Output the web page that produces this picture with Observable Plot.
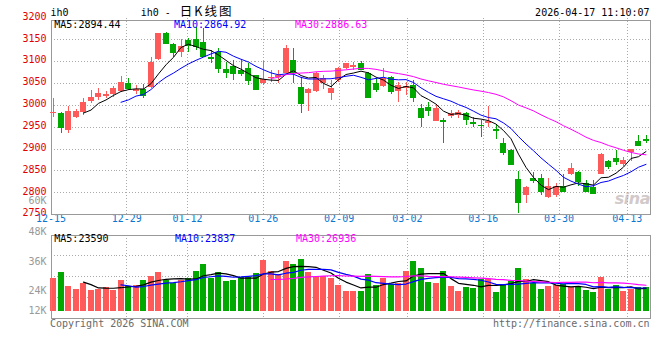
<!DOCTYPE html>
<html><head><meta charset="utf-8">
<script src="https://cdn.jsdelivr.net/npm/d3@7"></script>
<script src="https://cdn.jsdelivr.net/npm/@observablehq/plot@0.6"></script>
<style>
html,body{margin:0;padding:0;background:#fff;}
#wrap{position:relative;width:660px;height:360px;overflow:hidden;background:#fff;}
#wrap svg{position:absolute;left:0;top:0;}
</style></head><body><div id="wrap"></div>
<script>
// ---- data ----
const opens = [2981,2981,2943,2972,2984,3009,3018,3020,3024,3032,
3049,3032,3036,3040,3104,3165,3139,3122,3148,3150,
3144,3109,3122,3082,3090,3080,3085,3068,3049,3061,
3064,3074,3103,3042,3028,3032,3049,3028,3058,3084,
3087,3096,3074,3051,3043,3063,3032,3038,3045,2993,
2996,2964,2965,2975,2977,2981,2961,2955,2958,2945,
2912,2897,2830,2794,2832,2832,2790,2794,2814,2842,
2847,2821,2811,2842,2872,2878,2864,2893,2918,2922];
const closes = [2983,2950,2986,2986,3007,3017,3027,3025,3038,3052,
3038,3036,3023,3099,3164,3142,3122,3135,3137,3135,
3112,3108,3084,3076,3074,3072,3058,3036,3059,3064,
3068,3129,3076,3004,3036,3074,3061,3038,3085,3095,
3091,3082,3019,3036,3061,3032,3045,3043,3019,2972,
2988,2992,2963,2981,2983,2967,2959,2953,2964,2943,
2893,2865,2777,2813,2828,2804,2814,2814,2804,2855,
2826,2804,2799,2888,2861,2872,2874,2898,2908,2920];
const highs = [3016,2984,2997,2990,3016,3034,3038,3032,3043,3065,
3061,3045,3048,3109,3165,3167,3141,3150,3153,3179,
3176,3125,3129,3099,3103,3104,3095,3069,3100,3080,
3080,3137,3129,3064,3038,3076,3068,3057,3087,3096,
3099,3100,3076,3061,3084,3066,3053,3053,3057,3002,
3007,3002,2969,2988,2988,2984,2973,2965,2997,2956,
2924,2898,2849,2814,2847,2843,2832,2821,2842,2868,
2849,2828,2828,2891,2874,2897,2880,2898,2931,2931];
const lows = [2973,2936,2936,2969,2977,3004,3011,3015,3019,3030,
3034,3026,3015,3038,3103,3141,3110,3110,3122,3125,
3110,3096,3074,3061,3058,3066,3045,3034,3045,3053,
3049,3072,3049,2982,2987,3030,3036,3011,3053,3081,
3080,3080,3019,3030,3040,3026,3007,3023,3007,2949,
2975,2964,2912,2969,2969,2954,2950,2926,2950,2921,
2885,2864,2752,2775,2822,2794,2786,2790,2801,2840,
2814,2801,2798,2842,2853,2862,2861,2872,2907,2912];
const volumes = [33660,39780,25500,22130,28560,21110,22850,24170,21830,31310,
25190,26210,31310,35700,39780,31310,28560,32030,33660,40490,
47630,34070,39780,30290,31310,34680,34680,38760,51710,40490,
38150,50690,47630,52730,39780,34680,35390,33660,26210,20090,
20090,20090,37430,26210,33660,27230,28560,40490,50690,43860,
29580,28560,40490,25190,20090,24480,23460,32330,33050,19380,
27230,30290,43860,32330,28560,22130,25190,26210,27540,24480,
24480,21110,19380,34370,22130,26210,20090,22850,24480,24480];
const dateLabels = ["12-15","12-29","01-12","01-26","02-09","03-02","03-16","03-30","04-13"];
const dateIndex = [0,10,18,28,38,47,57,67,76];
const priceTicks = [3200,3150,3100,3050,3000,2950,2900,2850,2800,2750];
const volTickLabels = ["12K","24K","36K","48K","60K"];
const volTickValues = [700,21100,50700,81600,112900];
const maNames = ["MA5","MA10","MA30"];
const maPeriods = [5,10,30];
const priceMaLegend = ["2894.44","2864.92","2886.63"];
const volMaLegend = ["23590","23837","26936"];
const symbol = "ih0";
const titleText = "ih0 - ";
const titleCJK = "日K线图";
const stamp = "2026-04-17 11:10:07";
const copyright = "Copyright 2026 SINA.COM";
const url = "http://finance.sina.com.cn";

// ---- styling ----
const RED = "#ff5a5a", GREEN = "#00a800";
const maColors = ["#000000","#0000ff","#ff00ff"];
const GRID = "#aaaaaa", FRAME = "#999999";
const FONT = "DejaVu Sans Mono, Liberation Mono, monospace";
const W = 660, H = 360, n = opens.length;

const bars = opens.map((o,i)=>({i, open:o, close:closes[i], high:highs[i], low:lows[i], vol:volumes[i], color: closes[i] >= o ? RED : GREEN}));
const movAvg = (arr,k)=>arr.map((_,i)=> i < k-1 ? null : d3.mean(arr.slice(i-k+1,i+1)));
const priceMA = maPeriods.map((k,j)=> closes.map((_,i)=>({i, v: movAvg(closes,k)[i], s: j})));
const volMA = maPeriods.map((k,j)=> volumes.map((_,i)=>({i, v: movAvg(volumes,k)[i], s: j})));

const mL = 50.5, mR = 10.5;
const xDomain = [-1/3, n - 1 + 0.5333];
const gx = d3.scaleLinear([0, n-1], xDomain); // date grid spread across the frame
const half = 0.4;
const common = {width: W, height: H, marginLeft: mL, marginRight: mR,
  x: {type: "linear", domain: xDomain, axis: null},
  color: {type: "identity"},
  style: {background: "transparent", fontFamily: FONT, fontSize: "10px", overflow: "visible"}};

const price = Plot.plot({...common, marginTop: 19.5, marginBottom: H - 213.5,
  y: {domain: [2750, 3200], range: [214.16, 17.44], axis: null},
  marks: [
    Plot.ruleY(priceTicks.filter(t => t > 2750 && t < 3200), {stroke: GRID, strokeDasharray: "1,2", shapeRendering: "crispEdges"}),
    Plot.ruleX(dateIndex.slice(1), {x: d => gx(d), y1: 2750, y2: 3200, stroke: GRID, strokeDasharray: "1,2", shapeRendering: "crispEdges"}),
    Plot.axisY(priceTicks, {anchor: "left", tickSize: 0, tickPadding: 4.5, dy: -1.5, fill: "#e00000", label: null, fontSize: 10, tickFormat: d => String(d)}),
    Plot.text(dateLabels, {x: (d,i) => gx(dateIndex[i]), frameAnchor: "bottom", dy: 8.3, fill: "#0a78d2", fontSize: 10}),
    Plot.ruleX(bars, {x: "i", y1: "low", y2: "high", stroke: "color", shapeRendering: "crispEdges"}),
    Plot.rect(bars, {x1: d => d.i - half, x2: d => d.i + half, y1: "open", y2: "close", fill: "color", shapeRendering: "crispEdges"}),
    Plot.ruleY(bars, {y: "close", x1: d => d.i - half, x2: d => d.i + half, stroke: "color", shapeRendering: "crispEdges"}),
    ...priceMA.map((s,j) => Plot.line(s, {x: "i", y: "v", stroke: maColors[j], strokeWidth: 1})),
    Plot.frame({stroke: FRAME, shapeRendering: "crispEdges"})
  ]});

const vBase = 311, vTop = 234.5, vBot = 317.5, perPx = 1020;
const vDomain = [-(vBot - vBase) * perPx, (vBase - vTop) * perPx];
const vGrid = [1,2,3].map(k => vDomain[0] + k * (vDomain[1] - vDomain[0]) / 4);
const volume = Plot.plot({...common, marginTop: vTop, marginBottom: H - vBot,
  y: {domain: vDomain, axis: null},
  marks: [
    Plot.ruleY(vGrid, {stroke: GRID, strokeDasharray: "1,2", shapeRendering: "crispEdges"}),
    Plot.ruleX(dateIndex.slice(1), {x: d => gx(d), stroke: GRID, strokeDasharray: "1,2", shapeRendering: "crispEdges"}),
    Plot.text(volTickLabels, {y: (d,i) => volTickValues[i], frameAnchor: "left", textAnchor: "end", dx: -4.5, fill: "#999999", fontSize: 10}),
    Plot.rect(bars, {x1: d => d.i - half, x2: d => d.i + half, y1: 0, y2: "vol", fill: "color", shapeRendering: "crispEdges"}),
    ...volMA.map((s,j) => Plot.line(s, {x: "i", y: "v", stroke: maColors[j], strokeWidth: 1.2})),
    Plot.frame({stroke: FRAME, shapeRendering: "crispEdges"})
  ]});

const wrap = document.getElementById("wrap");
wrap.appendChild(price);
wrap.appendChild(volume);

// ---- header, legends and captions ----
const svg = d3.select(volume);
const addText = (x, y, s, fill, anchor="start", extra={}) => {
  const t = svg.append("text").attr("x", x).attr("y", y).attr("fill", fill)
    .attr("text-anchor", anchor).attr("font-family", FONT).attr("font-size", extra.size || 10).text(s);
  if (extra.style) t.attr("style", extra.style);
  return t;
};
// watermark
d3.select(price).insert("text", ":first-child").attr("x", 650).attr("y", 204).attr("text-anchor", "end")
  .attr("font-family", "DejaVu Sans").attr("font-size", 16).attr("font-weight", "bold").attr("font-style", "italic")
  .attr("fill", "#d2caca").attr("letter-spacing", -0.5).text("sina");
addText(50.5, 15.5, symbol, "#000");
const tt = addText(140.7, 15.5, titleText, "#000");
tt.append("tspan").attr("font-family", "Noto Sans CJK SC").attr("font-size", 12.5).attr("letter-spacing", 2).attr("dx", 3).text(titleCJK);
addText(649.5, 15.5, stamp, "#000", "end");
const legX = [54.3, 174, 295];
maNames.forEach((m,j) => {
  addText(legX[j], 27.5, m + ":" + priceMaLegend[j], maColors[j]);
  addText(legX[j] + (j ? 1 : 0), 242.3, m + ":" + volMaLegend[j], maColors[j]);
});
addText(50, 327, copyright, "#6a6a6a");
addText(649.5, 327, url, "#6a6a6a", "end");
</script></body></html>
